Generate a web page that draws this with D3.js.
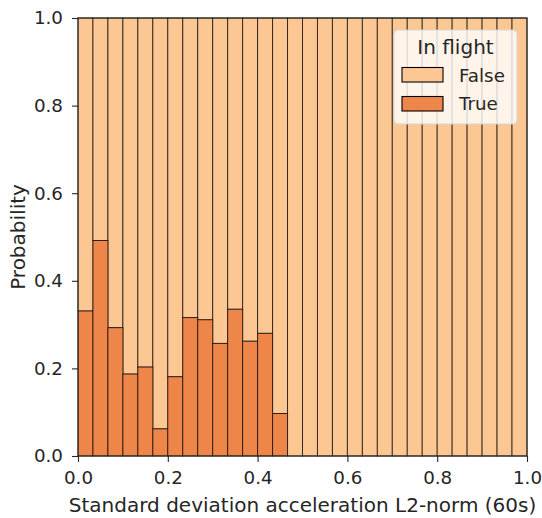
<!DOCTYPE html>
<html>
<head>
<meta charset="utf-8">
<script src="https://cdn.jsdelivr.net/npm/d3@7"></script>
<style>
  body { margin: 0; background: #fff; }
  text { font-family: "DejaVu Sans", sans-serif; fill: #262626; }
</style>
</head>
<body>
<svg id="chart" width="542" height="518"></svg>
<script>
// 30 bins of width 1/30 over [0, 1]; share of "True" per bin (normalised stack)
var binCount = 30;
var trueShare = [0.331, 0.492, 0.293, 0.187, 0.203, 0.062, 0.181, 0.316, 0.311,
                 0.257, 0.335, 0.262, 0.280, 0.097, 0, 0, 0, 0, 0, 0,
                 0, 0, 0, 0, 0, 0, 0, 0, 0, 0];
var xTicks = [0.0, 0.2, 0.4, 0.6, 0.8, 1.0];
var yTicks = [0.0, 0.2, 0.4, 0.6, 0.8, 1.0];
var hueLevels = ["False", "True"];
var hueColors = ["#fdc794", "#ee8649"];

var tickFont = "18.3px", labelFont = "20px";

var margin = {top: 18, right: 15, bottom: 62, left: 78},
    width = 542 - margin.left - margin.right,
    height = 518 - margin.top - margin.bottom;

var svg = d3.select("#chart");
var g = svg.append("g")
    .attr("transform", "translate(" + margin.left + "," + margin.top + ")");

var x = d3.scaleLinear().domain([0, 1]).range([0, width]);
var y = d3.scaleLinear().domain([0, 1]).range([height, 0]);

var bins = d3.range(binCount).map(function(i) {
  return {x0: i / binCount, x1: (i + 1) / binCount, t: trueShare[i]};
});

// False segment on top (t..1), True at the bottom (0..t)
g.selectAll("rect.false")
  .data(bins)
  .enter()
    .append("rect")
    .attr("class", "false")
    .attr("x", d => x(d.x0))
    .attr("width", d => x(d.x1) - x(d.x0))
    .attr("y", y(1))
    .attr("height", d => y(d.t) - y(1))
    .style("fill", hueColors[0])
    .style("stroke", "rgba(0,0,0,0.7)")
    .style("stroke-width", 1);

g.selectAll("rect.true")
  .data(bins.filter(d => d.t > 0))
  .enter()
    .append("rect")
    .attr("class", "true")
    .attr("x", d => x(d.x0))
    .attr("width", d => x(d.x1) - x(d.x0))
    .attr("y", d => y(d.t))
    .attr("height", d => y(0) - y(d.t))
    .style("fill", hueColors[1])
    .style("stroke", "rgba(0,0,0,0.7)")
    .style("stroke-width", 1);

// axes
var fmt = d3.format(".1f");
var xAxis = g.append("g")
    .attr("transform", "translate(0," + height + ")")
    .call(d3.axisBottom(x).tickValues(xTicks).tickFormat(fmt).tickSizeOuter(0).tickSize(6).tickPadding(9));
var yAxis = g.append("g")
    .call(d3.axisLeft(y).tickValues(yTicks).tickFormat(fmt).tickSizeOuter(0).tickSize(6).tickPadding(9));

[xAxis, yAxis].forEach(function(a) {
  a.selectAll("text").style("font-size", tickFont).style("fill", "#262626")
    .style("font-family", "DejaVu Sans, sans-serif");
  a.selectAll("line").style("stroke", "#262626").style("stroke-width", 1.1);
  a.select(".domain").remove();
});

// frame
g.append("rect")
  .attr("x", 0).attr("y", 0)
  .attr("width", width).attr("height", height)
  .style("fill", "none")
  .style("stroke", "#262626")
  .style("stroke-width", 1.1);

// axis labels
svg.append("text")
  .attr("x", margin.left + width / 2)
  .attr("y", 512)
  .attr("text-anchor", "middle")
  .style("font-size", labelFont)
  .text("Standard deviation acceleration L2-norm (60s)");

svg.append("text")
  .attr("transform", "translate(25," + (margin.top + height / 2) + ") rotate(-90)")
  .attr("text-anchor", "middle")
  .style("font-size", labelFont)
  .text("Probability");

// legend
var legend = svg.append("g").attr("transform", "translate(394,30)");
legend.append("rect")
  .attr("width", 123).attr("height", 94)
  .attr("rx", 4)
  .style("fill", "rgba(255,255,255,0.8)")
  .style("stroke", "#d6d6d6")
  .style("stroke-width", 1);
legend.append("text")
  .attr("x", 61.5).attr("y", 24)
  .attr("text-anchor", "middle")
  .style("font-size", labelFont)
  .text("In flight");
hueLevels.forEach(function(lvl, i) {
  legend.append("rect")
    .attr("x", 8).attr("y", 37.5 + i * 29)
    .attr("width", 41).attr("height", 14.5)
    .style("fill", hueColors[i])
    .style("stroke", "#000")
    .style("stroke-width", 1.1);
  legend.append("text")
    .attr("x", 65).attr("y", 51.5 + i * 28.5)
    .style("font-size", tickFont)
    .text(lvl);
});
</script>
</body>
</html>
